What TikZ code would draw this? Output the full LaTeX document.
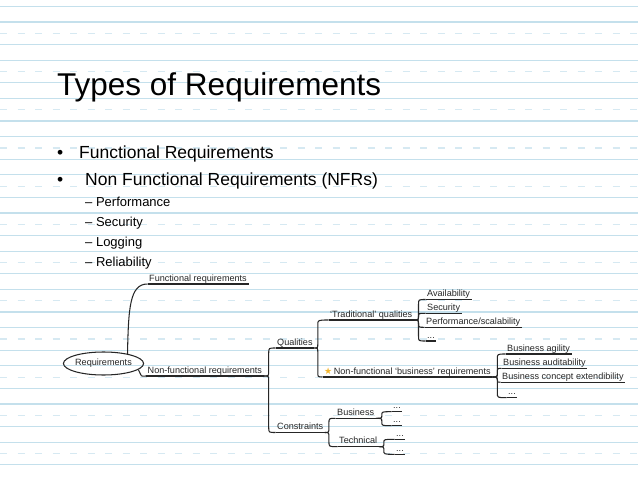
\documentclass[tikz,border=0pt]{standalone}
\usepackage{fontspec}
\setmainfont{Liberation Sans}
\newfontfamily\djv{DejaVu Sans}
\usetikzlibrary{shapes.geometric,calc}
\definecolor{ruleblue}{RGB}{196,224,236}
\definecolor{dashblue}{RGB}{214,233,242}
\definecolor{mmgray}{RGB}{38,38,38}
\definecolor{stargold}{RGB}{242,182,48}
\begin{document}
\begin{tikzpicture}[x=1pt,y=-1pt,
  rule/.style={ruleblue,line width=1.3pt},
  druled/.style={dashblue,line width=1.2pt,dash pattern=on 7pt off 10.5pt},
  slidetitle/.style={anchor=base west,inner sep=0pt,font=\fontsize{31.5}{36}\selectfont},
  bul/.style={anchor=base west,inner sep=0pt,font=\fontsize{17.5}{21}\selectfont},
  subitem/.style={anchor=base west,inner sep=0pt,font=\fontsize{13}{16}\selectfont},
  mmtext/.style={anchor=south west,inner xsep=1.5pt,inner ysep=2.6pt,text height=6.5pt,text depth=0pt,font=\fontsize{9.1}{10}\selectfont,text=mmgray},
  mmline/.style={mmgray,line width=1.05pt},
  mm/.style={to path={let \p1=(\tikztostart),\p2=(\tikztotarget),
      \n1={ifthenelse(\y2<\y1,-1,1)},\n2={min(abs(\y2-\y1)/2,5)},\n3={\n1*\n2} in
      (\p1) .. controls ({\x1+#1},\y1) .. ({\x1+#1},{\y1+\n3*1pt})
      -- ({\x1+#1},{\y2-\n3*1pt}) .. controls ({\x1+#1},\y2) .. (\p2)}}
]
\useasboundingbox (0,0) rectangle (638,479);
\fill[white] (0,0) rectangle (638,479);
% lined paper
\foreach \k in {-1,...,11}{
  \draw[rule] (0,{22+38.2*\k}) -- (638,{22+38.2*\k});
  \draw[rule] (0,{44.6+38.2*\k}) -- (638,{44.6+38.2*\k});
  \draw[druled] (0,{33.3+38.2*\k}) -- (638,{33.3+38.2*\k});
}
% slide text
\node[slidetitle] (title) at (57,95) {Types of Requirements};
\node[bul] (b1) at (57,158.3) {•};
\node[bul] (t1) at (79,158.3) {Functional Requirements};
\node[bul] (b2) at (57,185) {•};
\node[bul] (t2) at (85,185) {Non Functional Requirements (NFRs)};
\node[subitem] (s1) at (85,206) {– Performance};
\node[subitem] (s2) at (85,226.7) {– Security};
\node[subitem] (s3) at (85,246.7) {– Logging};
\node[subitem] (s4) at (85,266.7) {– Reliability};
% mind map
\node[ellipse,draw=mmgray,line width=1.05pt,minimum width=65pt,minimum height=23pt,inner sep=0pt,
  font=\fontsize{9.1}{10}\selectfont,text=mmgray] (req) at (103.5,363.5) {Requirements};
\node[mmtext] (func) at (147.5,284) {Functional requirements};
\node[mmtext] (nonfunc) at (146,376) {Non-functional requirements};
\node[mmtext] (qual) at (275.5,348) {Qualities};
\node[mmtext] (cons) at (275.5,432.5) {Constraints};
\node[mmtext] (trad) at (328.5,320) {‘Traditional’ qualities};
\node[mmtext] (nfb) at (322.5,377) {{\djv\color{stargold}★}\hspace{1.5pt}Non-functional ‘business’ requirements};
\node[mmtext] (avail) at (425.5,299.5) {Availability};
\node[mmtext] (sec) at (425.5,313.3) {Security};
\node[mmtext] (perf) at (424.5,327.3) {Performance/scalability};
\node[mmtext] (tdots) at (425.5,341) {...};
\node[mmtext] (bagil) at (505.5,354) {Business agility};
\node[mmtext] (baud) at (501.5,368.3) {Business auditability};
\node[mmtext] (bconc) at (500.5,382.3) {Business concept extendibility};
\node[mmtext] (bdots) at (506.5,397.7) {...};
\node[mmtext] (cbus) at (335.5,418.3) {Business};
\node[mmtext] (ctech) at (337.5,446.7) {Technical};
\node[mmtext] (d1) at (391.5,411.7) {...};
\node[mmtext] (d2) at (391.5,425.7) {...};
\node[mmtext] (d3) at (394.5,439.3) {...};
\node[mmtext] (d4) at (394.5,454.3) {...};
% underlines
\foreach \n in {func,nonfunc,qual,cons,trad,nfb,avail,sec,perf,tdots,bagil,baud,bconc,bdots,cbus,ctech,d1,d2,d3,d4}
  \draw[mmline] (\n.south west) -- (\n.south east);
% connectors
\draw[mmline] (req.22) .. controls +(1,-45) and +(-18,0) .. (func.south west);
\draw[mmline] (req.-10) .. controls +(4,8) and +(-6,0) .. (nonfunc.south west);
\draw[mmline] (nonfunc.south east) to[mm=5pt] (qual.south west);
\draw[mmline] (nonfunc.south east) to[mm=5pt] (cons.south west);
\draw[mmline] (qual.south east) to[mm=3.5pt] (trad.south west);
\draw[mmline] (qual.south east) to[mm=3.5pt] (nfb.south west);
\foreach \c in {avail,sec,perf,tdots}
  \draw[mmline] (trad.south east) to[mm=4.5pt] (\c.south west);
\foreach \c in {bagil,baud,bconc,bdots}
  \draw[mmline] (nfb.south east) to[mm=5pt] (\c.south west);
\draw[mmline] (cons.south east) to[mm=4pt] (cbus.south west);
\draw[mmline] (cons.south east) to[mm=4pt] (ctech.south west);
\draw[mmline] (cbus.south east) to[mm=6pt] (d1.south west);
\draw[mmline] (cbus.south east) to[mm=6pt] (d2.south west);
\draw[mmline] (ctech.south east) to[mm=5pt] (d3.south west);
\draw[mmline] (ctech.south east) to[mm=5pt] (d4.south west);
\end{tikzpicture}
\end{document}
